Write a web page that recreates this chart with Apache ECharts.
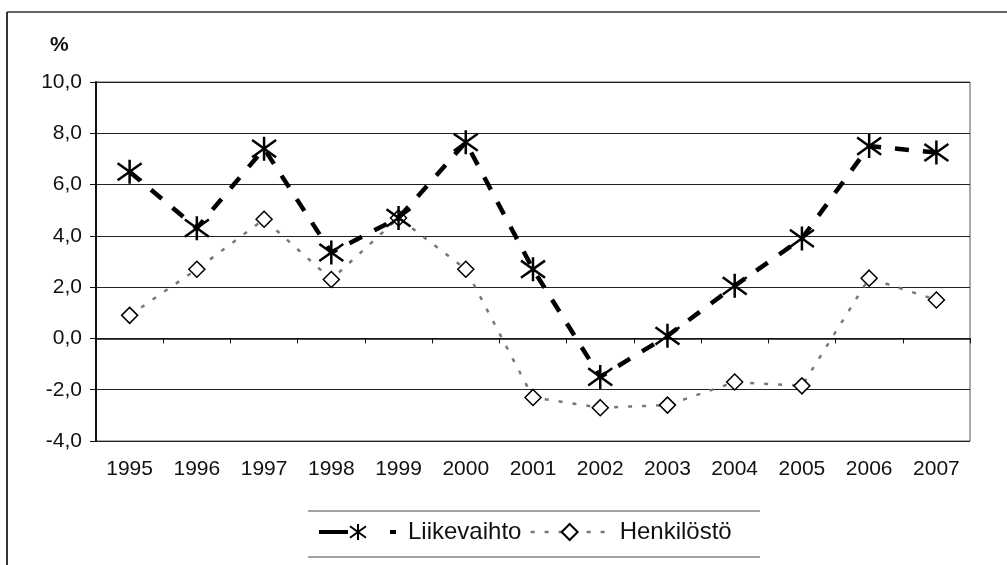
<!DOCTYPE html>
<html>
<head>
<meta charset="utf-8">
<script src="https://cdn.jsdelivr.net/npm/echarts@6/dist/echarts.min.js"></script>
<style>
  html, body { margin: 0; padding: 0; background: #fff; }
  #chart { width: 1007px; height: 565px; }
</style>
</head>
<body>
<div id="chart"></div>
<script>
const years = ['1995', '1996', '1997', '1998', '1999', '2000', '2001', '2002', '2003', '2004', '2005', '2006', '2007']
const liikevaihto = [6.5, 4.3, 7.4, 3.35, 4.7, 7.65, 2.7, -1.5, 0.1, 2.05, 3.9, 7.5, 7.25]
const henkilosto = [0.9, 2.7, 4.65, 2.3, 4.7, 2.7, -2.3, -2.7, -2.6, -1.7, -1.85, 2.35, 1.5]

// asterisk: an X with a vertical stroke, drawn as stroked path
const asterisk = 'path://M0,0 L10,10 M10,0 L0,10 M5,-2 L5,12'
const font = '"Liberation Sans", Arial, sans-serif'

const chart = echarts.init(document.getElementById('chart'))

chart.setOption({
  animation: false,
  textStyle: { fontFamily: font },
  grid: {
    left: 96, right: 37, top: 82, bottom: 124,
    show: true, borderColor: '#555', borderWidth: 1, backgroundColor: 'transparent'
  },
  graphic: [
    // outer frame (top and left edges are visible)
    { type: 'line', shape: { x1: 7, y1: 12, x2: 1007, y2: 12 }, style: { stroke: '#333', lineWidth: 1.5 } },
    { type: 'line', shape: { x1: 7, y1: 12, x2: 7, y2: 565 }, style: { stroke: '#333', lineWidth: 2 } },
    {
      type: 'text', left: 50, top: 35,
      style: { text: '%', font: 'bold 21px ' + font, fill: '#111' }
    },
    // legend box rules
    { type: 'line', shape: { x1: 308, y1: 511, x2: 760, y2: 511 }, style: { stroke: '#444', lineWidth: 1 } },
    { type: 'line', shape: { x1: 308, y1: 557, x2: 760, y2: 557 }, style: { stroke: '#444', lineWidth: 1 } }
  ],
  legend: {
    top: 515,
    left: 312,
    itemGap: 8,
    itemWidth: 78,
    itemHeight: 20,
    textStyle: { fontSize: 24, color: '#111', fontFamily: font, padding: [0, 0, 0, 6] },
    data: [
      {
        name: 'Liikevaihto',
        lineStyle: { color: '#000', width: 4, type: [29, 42, 6, 10] }
      },
      {
        name: 'Henkilöstö',
        lineStyle: { color: '#777', width: 2.5, type: [4, 10] }
      }
    ]
  },
  xAxis: {
    type: 'category',
    data: years,
    boundaryGap: true,
    axisLine: { lineStyle: { color: '#111', width: 1.5 } },
    axisTick: { show: true, length: 5, lineStyle: { color: '#111' } },
    axisLabel: { fontSize: 21, color: '#111', margin: 18, fontFamily: font }
  },
  yAxis: {
    type: 'value',
    min: -4,
    max: 10,
    interval: 2,
    axisLine: { show: true, lineStyle: { color: '#111', width: 2 } },
    axisTick: { show: true, length: 6, lineStyle: { color: '#111' } },
    axisLabel: {
      fontSize: 21, color: '#111', margin: 14, fontFamily: font,
      formatter: v => v.toFixed(1).replace('.', ',')
    },
    splitLine: { lineStyle: { color: '#222', width: 1 } }
  },
  series: [
    {
      name: 'Liikevaihto',
      type: 'line',
      data: liikevaihto,
      symbol: asterisk,
      symbolSize: 24,
      lineStyle: { color: '#000', width: 4.5, type: [14, 14] },
      itemStyle: { color: 'none', borderColor: '#000', borderWidth: 2.5 },
      z: 3
    },
    {
      name: 'Henkilöstö',
      type: 'line',
      data: henkilosto,
      symbol: 'diamond',
      symbolSize: 16,
      lineStyle: { color: '#777', width: 2.5, type: [4, 10] },
      itemStyle: { color: '#fff', borderColor: '#000', borderWidth: 1.5 },
      z: 2
    }
  ]
})
</script>
</body>
</html>
